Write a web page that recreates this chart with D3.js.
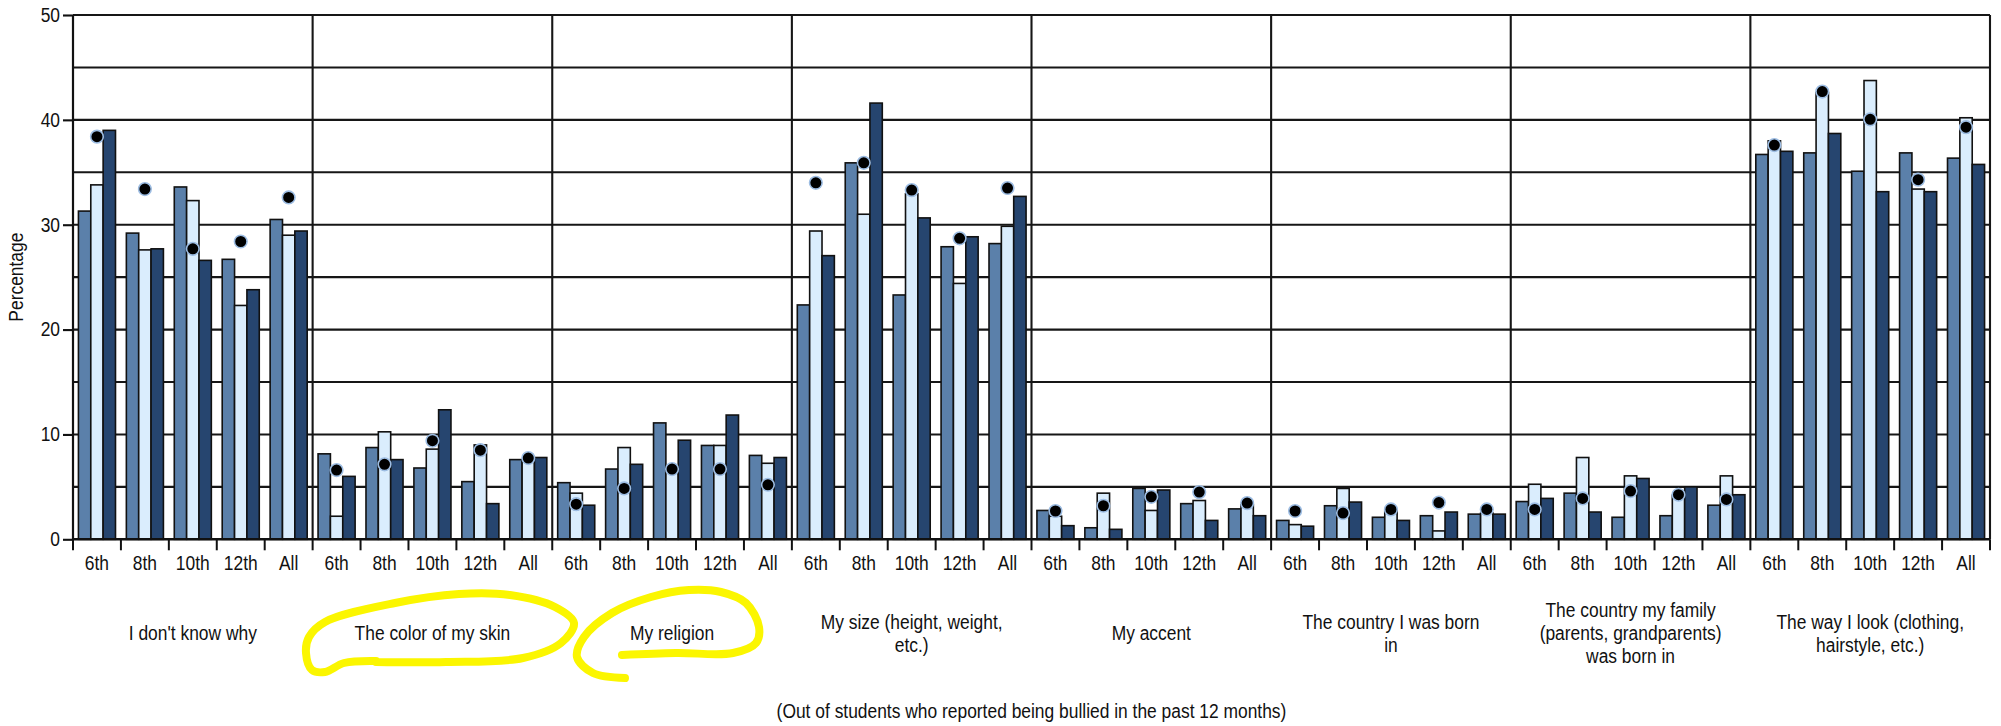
<!DOCTYPE html>
<html>
<head>
<meta charset="utf-8">
<script src="https://cdn.jsdelivr.net/npm/d3@7/dist/d3.min.js"></script>
<style>
  html, body { margin: 0; padding: 0; background: #fff; }
  svg { display: block; }
  text { font-family: 'Liberation Sans', Arial, sans-serif; fill: #111; }
</style>
</head>
<body>
<svg id="chart" width="2001" height="726"></svg>
<script>
// ---------- DATA ----------
const categories = [
  "I don't know why",
  "The color of my skin",
  "My religion",
  "My size (height, weight, etc.)",
  "My accent",
  "The country I was born in",
  "The country my family (parents, grandparents) was born in",
  "The way I look (clothing, hairstyle, etc.)"
];
const categoryLines = [
  ["I don't know why"],
  ["The color of my skin"],
  ["My religion"],
  ["My size (height, weight,", "etc.)"],
  ["My accent"],
  ["The country I was born", "in"],
  ["The country my family", "(parents, grandparents)", "was born in"],
  ["The way I look (clothing,", "hairstyle, etc.)"]
];
const grades = ["6th", "8th", "10th", "12th", "All"];
const seriesNames = ["s1", "s2", "s3"];

// per category, per grade
const series1 = [
  [31.3, 29.2, 33.6, 26.7, 30.5],
  [8.15, 8.75, 6.8, 5.5, 7.6],
  [5.4, 6.7, 11.1, 8.95, 8.0],
  [22.35, 35.9, 23.3, 27.9, 28.2],
  [2.75, 1.1, 4.85, 3.4, 2.9],
  [1.8, 3.2, 2.1, 2.25, 2.4],
  [3.6, 4.4, 2.1, 2.25, 3.25],
  [36.7, 36.85, 35.1, 36.85, 36.35]
];
const series2 = [
  [33.8, 27.6, 32.3, 22.3, 29.0],
  [2.2, 10.25, 8.6, 9.0, 7.5],
  [4.4, 8.75, 6.9, 8.95, 7.25],
  [29.4, 31.0, 32.95, 24.4, 29.85],
  [2.2, 4.4, 2.75, 3.7, 3.3],
  [1.4, 4.85, 2.7, 0.8, 2.5],
  [5.25, 7.8, 6.05, 4.2, 6.05],
  [38.0, 42.6, 43.75, 33.4, 40.2]
];
const series3 = [
  [39.0, 27.7, 26.6, 23.8, 29.4],
  [6.0, 7.6, 12.35, 3.4, 7.8],
  [3.25, 7.15, 9.45, 11.85, 7.8],
  [27.05, 41.6, 30.65, 28.85, 32.7],
  [1.3, 0.95, 4.7, 1.8, 2.25],
  [1.25, 3.55, 1.8, 2.6, 2.4],
  [3.9, 2.6, 5.8, 5.0, 4.25],
  [37.0, 38.7, 33.15, 33.15, 35.75]
];
const markerValues = [
  [38.4, 33.4, 27.7, 28.4, 32.6],
  [6.6, 7.15, 9.4, 8.5, 7.75],
  [3.35, 4.85, 6.7, 6.7, 5.2],
  [34.0, 35.9, 33.3, 28.7, 33.5],
  [2.7, 3.2, 4.05, 4.5, 3.45],
  [2.7, 2.5, 2.85, 3.5, 2.85],
  [2.85, 3.9, 4.6, 4.25, 3.8],
  [37.6, 42.7, 40.05, 34.3, 39.3]
];
const yTicks = [0, 10, 20, 30, 40, 50];
const gridValues = [5, 10, 15, 20, 25, 30, 35, 40, 45, 50];
const yTitle = "Percentage";
const footnote = "(Out of students who reported being bullied in the past 12 months)";

// hand-drawn highlight loops (annotation, in pixel space)
const highlight1 = [[376,662],[446,662],[523,658],[561,643],[574,623],[555,607],[510,595],[459,594],[395,603],[325,622],[309,637],[306,653],[312,670],[325,672],[344,663],[376,661]];
const highlight2 = [[622,655],[676,653],[733,653],[756,643],[759,627],[746,603],[721,592],[689,590],[651,597],[612,613],[584,637],[577,657],[593,673],[625,678]];

// ---------- STYLE ----------
const colors = ["#5b80aa", "#daedfd", "#26456f"];
const margin = { left: 73, right: 1990, top: 15, bottom: 539.3 };
const FS = "20px";
const K = 0.87; // horizontal condensing of text

const svg = d3.select("#chart");
function condense(sel) {
  sel.each(function() {
    const L = this.getComputedTextLength();
    d3.select(this).attr("textLength", L * K).attr("lengthAdjust", "spacingAndGlyphs");
  });
}

const x0 = d3.scaleBand().domain(categories).range([margin.left, margin.right]).padding(0);
const x1 = d3.scaleBand().domain(grades).range([0, x0.bandwidth()]).padding(0);
const x2 = d3.scaleBand().domain(seriesNames).range([0, x1.bandwidth()]).paddingInner(0).paddingOuter(0.44);
const y = d3.scaleLinear().domain([0, 50]).range([margin.bottom, margin.top]);

// gridlines
svg.append("g").selectAll("line").data(gridValues).join("line")
  .attr("x1", margin.left).attr("x2", margin.right)
  .attr("y1", d => y(d)).attr("y2", d => y(d))
  .attr("stroke", "#161616").attr("stroke-width", 2.1);

// category dividers + right border
const dividers = categories.slice(1).map(c => x0(c)).concat([margin.right]);
svg.append("g").selectAll("line").data(dividers).join("line")
  .attr("x1", d => d).attr("x2", d => d)
  .attr("y1", y(50)).attr("y2", y(0))
  .attr("stroke", "#161616").attr("stroke-width", 2.1);

// bars
const allSeries = [series1, series2, series3];
const barData = [];
categories.forEach((c, ci) => {
  grades.forEach((g, gi) => {
    seriesNames.forEach((s, si) => {
      barData.push({ c, g, s, si, v: allSeries[si][ci][gi] });
    });
  });
});
svg.append("g").selectAll("rect").data(barData).join("rect")
  .attr("x", d => x0(d.c) + x1(d.g) + x2(d.s))
  .attr("width", x2.bandwidth())
  .attr("y", d => y(d.v))
  .attr("height", d => y(0) - y(d.v))
  .attr("fill", d => colors[d.si])
  .attr("stroke", "#111").attr("stroke-width", 1.6);

// markers
const dotData = [];
categories.forEach((c, ci) => grades.forEach((g, gi) => dotData.push({ c, g, v: markerValues[ci][gi] })));
svg.append("g").selectAll("circle").data(dotData).join("circle")
  .attr("cx", d => x0(d.c) + x1(d.g) + x2("s2") + x2.bandwidth() / 2)
  .attr("cy", d => y(d.v))
  .attr("r", 6.3)
  .attr("fill", "#000")
  .attr("stroke", "#9dbde3").attr("stroke-width", 1.6);

// y axis
const yAxis = d3.axisLeft(y).tickValues(yTicks).tickSize(10).tickPadding(3).tickFormat(d3.format("d"));
const gy = svg.append("g").attr("transform", `translate(${margin.left},0)`).call(yAxis);
gy.select(".domain").attr("stroke", "#111").attr("stroke-width", 2.2).attr("d", `M0,${y(50)}V${y(0)}`);
gy.selectAll(".tick line").attr("stroke", "#111").attr("stroke-width", 2.1);
gy.selectAll(".tick text").style("font-size", FS).attr("font-family", null).attr("fill", "#111").call(condense);

// x axis baseline
svg.append("line").attr("x1", margin.left).attr("x2", margin.right)
  .attr("y1", y(0)).attr("y2", y(0)).attr("stroke", "#111").attr("stroke-width", 2.4);

// x ticks at subgroup boundaries
const tickXs = [];
categories.forEach(c => grades.forEach(g => tickXs.push(x0(c) + x1(g))));
tickXs.push(margin.right);
svg.append("g").selectAll("line").data(tickXs).join("line")
  .attr("x1", d => d).attr("x2", d => d)
  .attr("y1", y(0)).attr("y2", y(0) + 11)
  .attr("stroke", "#111").attr("stroke-width", 2);

// grade labels
const gradeLabels = [];
categories.forEach(c => grades.forEach(g => gradeLabels.push({ c, g })));
svg.append("g").selectAll("text").data(gradeLabels).join("text")
  .attr("x", d => x0(d.c) + x1(d.g) + x1.bandwidth() / 2)
  .attr("y", 570)
  .attr("text-anchor", "middle")
  .style("font-size", FS)
  .text(d => d.g)
  .call(condense);

// category labels (one text per line)
const catLineData = [];
categories.forEach((c, i) => {
  const lines = categoryLines[i];
  const lh = 23;
  const y0 = 633 - (lines.length - 1) * lh / 2;
  lines.forEach((t, j) => catLineData.push({ c, t, yy: y0 + j * lh + 7 }));
});
svg.append("g").selectAll("text").data(catLineData).join("text")
  .attr("x", d => x0(d.c) + x0.bandwidth() / 2)
  .attr("y", d => d.yy)
  .attr("text-anchor", "middle")
  .style("font-size", FS)
  .text(d => d.t)
  .call(condense);

// y title
svg.append("text")
  .attr("transform", `translate(23,${(y(0) + y(50)) / 2}) rotate(-90)`)
  .attr("text-anchor", "middle")
  .style("font-size", FS)
  .text(yTitle)
  .call(condense);

// footnote
svg.append("text")
  .attr("x", (margin.left + margin.right) / 2)
  .attr("y", 718)
  .attr("text-anchor", "middle")
  .style("font-size", FS)
  .text(footnote)
  .call(condense);

// highlight annotations
const hl = d3.line().curve(d3.curveCatmullRom.alpha(0.5));
[highlight1, highlight2].forEach(pts => {
  svg.append("path").attr("d", hl(pts))
    .attr("fill", "none").attr("stroke", "#fbf600")
    .attr("stroke-width", 8).attr("stroke-linecap", "round").attr("stroke-linejoin", "round");
});
</script>
</body>
</html>
